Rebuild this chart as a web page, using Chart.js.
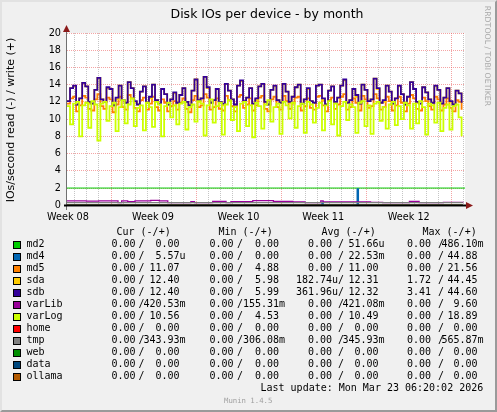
<!DOCTYPE html>
<html>
<head>
<meta charset="utf-8">
<script src="https://cdn.jsdelivr.net/npm/chart.js@4.4.1/dist/chart.umd.min.js"></script>
<style>
  html, body { margin: 0; padding: 0; }
  body { width: 497px; height: 412px; overflow: hidden; }
  #wrap { position: relative; width: 497px; height: 412px; background: #f0f0f0; }
  #wrap canvas { position: absolute; left: 0; top: 0; }
  #edge { position: absolute; left: 0; top: 0; width: 497px; height: 412px; box-sizing: border-box;
          border-style: solid; border-width: 2px; border-color: #e2e2e2 #9a9a9a #9a9a9a #e2e2e2; pointer-events: none; }
  .t { position: absolute; white-space: pre; color: #000; }
  .mono { font-family: "DejaVu Sans Mono", monospace; font-size: 10px; line-height: 12px; height: 12px; }
  .sq { position: absolute; width: 6px; height: 6px; border: 1px solid #000; }
</style>
</head>
<body>
<div id="wrap">
  <canvas id="graph" width="497" height="412"></canvas>
  <div class="t" style="left:0;top:6px;width:534px;text-align:center;font:12.5px 'DejaVu Sans';line-height:16px;">Disk IOs per device - by month</div>
  <div class="t" style="left:-74px;top:113px;width:170px;text-align:center;font:11px 'DejaVu Sans';line-height:14px;transform:rotate(-90deg);">IOs/second read (-) / write (+)</div>
  <div class="t" style="left:435px;top:51px;width:104px;text-align:center;font:7.8px 'DejaVu Sans';line-height:10px;color:#a8a8a8;transform:rotate(90deg);">RRDTOOL / TOBI OETIKER</div>
  <div id="legend"></div>
  <div id="edge"></div>
</div>
<script>
// time axis in days, one sample every 6 hours
const stepDays = 0.25;
const xMax = 32.78;
const weekLabels = ["Week 08", "Week 09", "Week 10", "Week 11", "Week 12"];
const weekLabelAt = [0.08, 7.08, 14.12, 21.1, 28.15];
const weekLineAt = [3.63, 10.63, 17.63, 24.63, 31.63];
const yTicks = [0, 2, 4, 6, 8, 10, 12, 14, 16, 18, 20];

const sdb = [
  12.1, 13.6, 13.9, 11.7, 12.4, 14.2, 13.8, 12.0,
  11.8, 13.4, 14.8, 12.3, 12.0, 13.7, 13.5, 11.6,
  12.5, 13.9, 12.2, 11.9, 14.3, 13.6, 12.1, 11.7,
  13.2, 13.8, 11.9, 12.6, 14.0, 12.2, 11.8, 13.5,
  12.9, 11.7, 12.3, 13.1, 11.9, 12.8, 13.6, 12.0,
  11.6, 13.3, 14.6, 12.2, 12.4, 14.9, 13.7, 11.9,
  12.2, 13.5, 12.0, 11.8, 14.1, 13.3, 12.3, 11.7,
  13.9, 14.5, 12.1, 12.5, 13.6, 11.8, 12.4, 13.8,
  14.1, 12.0, 11.7, 13.4, 13.9, 12.2, 11.9, 14.1,
  13.2, 12.0, 12.6, 13.7, 14.0, 11.8, 12.3, 13.6,
  12.1, 11.9, 13.9, 14.0, 12.4, 11.7, 13.3, 13.8,
  12.0, 12.5, 13.9, 14.6, 11.9, 12.2, 13.5, 12.8,
  11.8, 14.0, 13.4, 12.1, 12.3, 14.7, 13.6, 11.9,
  12.2, 13.9, 13.2, 11.8, 12.4, 13.9, 12.9, 11.7,
  12.6, 14.3, 13.5, 12.0, 11.8, 13.7, 13.1, 12.3,
  11.9, 13.9, 13.4, 11.8, 12.5, 13.6, 12.1, 11.7,
  13.3, 13.0, 11.9
];
const sda = [
  12.1, 13.6, 13.8, 11.7, 12.4, 14.2, 13.8, 11.8,
  11.8, 13.4, 14.8, 12.3, 12.0, 13.6, 13.5, 11.6,
  12.3, 13.9, 12.2, 11.9, 14.3, 13.6, 12.0, 11.7,
  13.2, 13.8, 11.9, 12.4, 14.0, 12.2, 11.8, 13.5,
  12.9, 11.7, 12.3, 13.0, 11.9, 12.8, 13.6, 12.0,
  11.6, 13.3, 14.6, 12.0, 12.4, 14.9, 13.6, 11.9,
  12.2, 13.5, 12.0, 11.6, 14.1, 13.3, 12.3, 11.7,
  13.9, 14.4, 12.1, 12.5, 13.6, 11.8, 12.2, 13.8,
  14.1, 12.0, 11.7, 13.4, 13.8, 12.2, 11.9, 14.1,
  13.2, 11.9, 12.6, 13.7, 14.0, 11.8, 12.3, 13.5,
  12.1, 11.9, 13.9, 14.0, 12.2, 11.7, 13.3, 13.8,
  12.0, 12.5, 13.9, 14.5, 11.9, 12.2, 13.5, 12.6,
  11.8, 14.0, 13.4, 12.1, 12.3, 14.7, 13.5, 11.9,
  12.0, 13.9, 13.2, 11.8, 12.4, 13.8, 12.9, 11.7,
  12.6, 14.3, 13.5, 11.9, 11.8, 13.7, 13.1, 12.3,
  11.9, 13.8, 13.4, 11.8, 12.5, 13.6, 12.0, 11.7,
  13.3, 13.0, 11.9
];
const md5 = [
  11.8, 12.4, 12.6, 10.9, 11.6, 12.7, 12.5, 11.2,
  11.0, 12.3, 12.9, 11.5, 11.2, 12.5, 12.3, 10.8,
  11.7, 12.6, 11.4, 11.1, 12.8, 12.4, 11.3, 10.9,
  12.2, 12.5, 11.1, 11.8, 12.6, 11.4, 11.0, 12.3,
  11.9, 10.9, 11.5, 12.1, 11.1, 11.9, 12.4, 11.2,
  10.8, 12.2, 12.7, 11.4, 11.6, 12.9, 12.5, 11.1,
  11.4, 12.4, 11.2, 11.0, 12.7, 12.2, 11.5, 10.9,
  12.6, 12.8, 11.3, 11.7, 12.4, 11.0, 11.6, 12.5,
  12.7, 11.2, 10.9, 12.3, 12.6, 11.4, 11.1, 12.7,
  12.1, 11.2, 11.8, 12.5, 12.6, 11.0, 11.5, 12.4,
  11.3, 11.1, 12.6, 12.7, 11.6, 10.9, 12.2, 12.5,
  11.2, 11.7, 12.6, 12.9, 11.1, 11.4, 12.4, 11.9,
  11.0, 12.7, 12.3, 11.3, 11.5, 12.9, 12.4, 11.1,
  11.4, 12.6, 12.1, 11.0, 11.6, 12.6, 11.9, 10.9,
  11.8, 12.8, 12.4, 11.2, 11.0, 12.5, 12.1, 11.5,
  11.1, 12.6, 12.3, 11.0, 11.7, 12.4, 11.3, 10.9,
  12.2, 12.0, 11.1
];
const varLog = [
  11.5,  9.4, 11.8, 12.0,  8.0, 11.6, 11.9,  9.0,
  12.1, 11.7,  7.5, 11.8, 12.0,  9.8, 11.5, 11.9,
   8.6, 11.4, 12.2,  9.5, 11.7, 12.4,  9.2, 11.3,
  11.6,  8.7, 11.9, 11.4,  9.1, 12.0, 11.7,  8.0,
  11.5, 11.9, 10.2, 11.6,  9.4, 11.8, 12.0,  8.8,
  11.4, 11.7,  9.7, 12.1, 11.8,  8.1, 11.6, 12.3,
   9.6, 11.5, 11.9,  8.2, 11.7, 12.2,  9.9, 11.4,
   8.6, 11.8, 12.0,  9.2, 11.6,  7.9, 11.9, 11.5,
   8.9, 11.7, 12.2,  9.7, 11.4, 11.8,  8.3, 12.0,
  11.6, 10.1, 11.9,  9.0, 11.5, 11.8,  8.4, 12.0,
  11.7,  9.6, 11.3, 11.9,  8.7, 11.6, 12.1,  9.4,
  11.8,  8.1, 11.5, 12.0,  9.9, 11.7, 11.4,  8.4,
  11.9, 12.1,  9.2, 11.6,  8.3, 11.8, 12.0,  9.8,
  11.4,  8.9, 11.7, 12.0,  9.3, 11.5, 10.0, 11.9,
  11.6,  8.9, 11.8,  9.5, 12.1, 11.4,  8.2, 11.8,
  11.6,  9.6, 11.9,  8.6, 11.3, 11.7,  8.8, 11.5,
  11.7, 10.2,  8.0
];
// sparse series as [day, value] change points
const md2 = [[0, 0], [32.6, 0]];
const md4 = [[0, 0], [21.0, 0.35], [21.1, 0], [23.9, 1.9], [24.0, 0], [32.6, 0]];
const varLib = [
  [0, 0.52], [1.6, 0.48], [2.6, 0.52], [4.2, 0.3], [4.5, 0.5], [5.0, 0.42], [5.6, 0.52],
  [6.9, 0.56], [7.6, 0.5], [8.3, 0.3], [10.2, 0.42], [10.5, 0.3], [12.0, 0.46], [13.1, 0.3],
  [13.5, 0.42], [15.3, 0.55], [17.0, 0.45], [18.6, 0.4], [19.6, 0.3], [20.9, 0.5], [21.1, 0.4],
  [23.2, 0.38], [25.0, 0.34], [26.0, 0.3], [28.2, 0.45], [29.0, 0.3], [31.0, 0.34], [32.6, 0.3]
];
const tmp = [[0, 0.3], [32.6, 0.3]];
const home = [[0, 0], [32.6, 0]];
const web = [[0, 0], [32.6, 0]];
const data = [[0, 0], [32.6, 0]];
const ollama = [[0, 0], [32.6, 0]];
const greenRule = [[0, 2], [xMax, 2]];

const names = ["md2", "md4", "md5", "sda", "sdb", "varLib", "varLog", "home", "tmp", "web", "data", "ollama"];
const colours = ["#00CC00", "#0066B3", "#FF8000", "#FFCC00", "#330099", "#990099", "#CCFF00", "#FF0000", "#808080", "#008F00", "#00487D", "#B35A00"];
// [cur read, cur write, min read, min write, avg read, avg write, max read, max write]
const stats = [
  ["0.00", "0.00", "0.00", "0.00", "0.00", "51.66u", "0.00", "486.10m"],
  ["0.00", "5.57u", "0.00", "0.00", "0.00", "22.53m", "0.00", "44.88"],
  ["0.00", "11.07", "0.00", "4.88", "0.00", "11.00", "0.00", "21.56"],
  ["0.00", "12.40", "0.00", "5.98", "182.74u", "12.31", "1.72", "44.45"],
  ["0.00", "12.40", "0.00", "5.99", "361.96u", "12.32", "3.41", "44.60"],
  ["0.00", "420.53m", "0.00", "155.31m", "0.00", "421.08m", "0.00", "9.60"],
  ["0.00", "10.56", "0.00", "4.53", "0.00", "10.49", "0.00", "18.89"],
  ["0.00", "0.00", "0.00", "0.00", "0.00", "0.00", "0.00", "0.00"],
  ["0.00", "343.93m", "0.00", "306.08m", "0.00", "345.93m", "0.00", "565.87m"],
  ["0.00", "0.00", "0.00", "0.00", "0.00", "0.00", "0.00", "0.00"],
  ["0.00", "0.00", "0.00", "0.00", "0.00", "0.00", "0.00", "0.00"],
  ["0.00", "0.00", "0.00", "0.00", "0.00", "0.00", "0.00", "0.00"]
];
const headers = ["Cur (-/+)", "Min (-/+)", "Avg (-/+)", "Max (-/+)"];
const lastUpdate = "Last update: Mon Mar 23 06:20:02 2026";

// legend table (text layout)
const legend = document.getElementById("legend");
const colEnds = [[135.5, 138.5, 179.5], [233.5, 237, 279], [332, 338, 378.5], [431, 438, 477.5]];
const headX = [116.5, 218.5, 321.5, 422.5];
function put(txt, left, top, extra) {
  const d = document.createElement("div");
  d.className = "t mono";
  d.textContent = txt;
  d.style.left = left + "px";
  d.style.top = top + "px";
  if (extra) d.style.cssText += extra;
  legend.appendChild(d);
  return d;
}
function numLeft(v, end) {
  const n = v.replace(/[um]$/, "");
  return end - n.length * 6;
}
headers.forEach((h, i) => put(h, headX[i], 226));
names.forEach((n, r) => {
  const cy = 244.3 + r * 12;
  const sq = document.createElement("div");
  sq.className = "sq";
  sq.style.left = "13px";
  sq.style.top = (cy - 3.5) + "px";
  sq.style.background = colours[r];
  legend.appendChild(sq);
  put(n, 26.5, cy - 6);
  colEnds.forEach((c, k) => {
    const a = stats[r][k * 2], b = stats[r][k * 2 + 1];
    put(a, numLeft(a, c[0]), cy - 6);
    put("/", c[1], cy - 6);
    put(b, numLeft(b, c[2]), cy - 6);
  });
});
put(lastUpdate, 260.5, 382);
put("Munin 1.4.5", 224, 395, "font-size:7.3px;color:#a0a0a0;");

// chart
const series = [
  ["md2", md2], ["md4", md4], ["md5", md5], ["sda", sda], ["sdb", sdb], ["varLib", varLib],
  ["varLog", varLog], ["home", home], ["tmp", tmp], ["web", web], ["data", data], ["ollama", ollama]
];
const datasets = series.map(([name, vals], i) => ({
  label: name,
  data: Array.isArray(vals[0]) ? vals.map(p => ({ x: p[0], y: p[1] })) : vals.map((v, j) => ({ x: j * stepDays, y: v })),
  borderColor: colours[i],
  borderWidth: Array.isArray(vals[0]) ? 1.3 : 1.8,
  pointRadius: 0,
  stepped: true,
  fill: false,
  order: 40 - i,
}));
datasets.push({
  label: "rule",
  data: greenRule.map(p => ({ x: p[0], y: p[1] })),
  borderColor: "#00CC00",
  borderWidth: 1,
  pointRadius: 0,
  order: 50,
});

const frame = {
  id: "frame",
  beforeDraw(chart) {
    const { ctx, chartArea: a } = chart;
    ctx.save();
    ctx.fillStyle = "#ffffff";
    ctx.fillRect(a.left, a.top, a.right - a.left, a.bottom - a.top);
    ctx.restore();
  },
  afterDatasetsDraw(chart) {
    const { ctx, chartArea: a, scales } = chart;
    const y0 = Math.round(scales.y.getPixelForValue(0)) + 0.5;
    ctx.save();
    ctx.strokeStyle = "#707070";
    ctx.lineWidth = 1;
    ctx.beginPath();
    ctx.moveTo(a.left - 0.5, a.bottom + 3);
    ctx.lineTo(a.left - 0.5, a.top - 4);
    ctx.stroke();
    ctx.strokeStyle = "#000000";
    ctx.lineWidth = 2;
    ctx.beginPath();
    ctx.moveTo(a.left - 3, y0);
    ctx.lineTo(a.right + 3, y0);
    ctx.stroke();
    ctx.fillStyle = "#8b1a1a";
    ctx.beginPath();
    ctx.moveTo(a.left - 4, a.top - 1);
    ctx.lineTo(a.left + 3, a.top - 1);
    ctx.lineTo(a.left - 0.5, a.top - 8);
    ctx.closePath();
    ctx.fill();
    ctx.beginPath();
    ctx.moveTo(a.right + 1, y0 - 3.5);
    ctx.lineTo(a.right + 1, y0 + 3.5);
    ctx.lineTo(a.right + 8, y0);
    ctx.closePath();
    ctx.fill();
    ctx.restore();
  }
};

const minor = "rgba(150,150,150,0.55)";
const major = "rgba(235,90,90,0.55)";

new Chart(document.getElementById("graph"), {
  type: "line",
  data: { datasets },
  plugins: [frame],
  options: {
    responsive: false,
    animation: false,
    devicePixelRatio: 1,
    parsing: false,
    layout: { padding: { left: 0, top: 33, right: 32, bottom: 0 } },
    plugins: { legend: { display: false }, tooltip: { enabled: false } },
    scales: {
      x: {
        type: "linear",
        min: 0,
        max: xMax,
        position: "bottom",
        afterBuildTicks: s => {
          const t = [];
          for (let d = weekLineAt[0] - 3; d < xMax; d += 1) t.push({ value: d });
          s.ticks = t;
        },
        afterFit: s => { s.height = 4; },
        grid: {
          color: c => weekLineAt.some(w => Math.abs(w - c.tick.value) < 0.01) ? major : minor,
          lineWidth: 1,
          drawTicks: false,
        },
        border: { display: false, dash: [1, 1] },
        ticks: { display: false },
      },
      weeks: {
        type: "linear",
        min: 0,
        max: xMax,
        position: "bottom",
        afterBuildTicks: s => { s.ticks = weekLabelAt.map(v => ({ value: v })); },
        afterFit: s => { s.height = 201; },
        grid: { display: false, drawTicks: false },
        border: { display: false },
        ticks: {
          autoSkip: false,
          maxRotation: 0,
          padding: 1,
          color: "#000",
          font: { family: "DejaVu Sans", size: 9.7 },
          callback: (v, i) => weekLabels[i],
        },
      },
      y: {
        min: -0.2,
        max: 20,
        afterBuildTicks: s => {
          const t = [];
          for (let v = 0; v <= 20; v++) t.push({ value: v });
          s.ticks = t;
        },
        afterFit: s => { s.width = 67; },
        grid: {
          color: c => c.tick.value % 2 === 0 ? major : minor,
          lineWidth: 1,
          drawTicks: false,
        },
        border: { display: false, dash: [1, 1] },
        ticks: {
          padding: 6,
          color: "#000",
          font: { family: "DejaVu Sans", size: 9.7 },
          callback: v => (yTicks.includes(v) ? String(v) : ""),
        },
      },
    },
  },
});
</script>
</body>
</html>
